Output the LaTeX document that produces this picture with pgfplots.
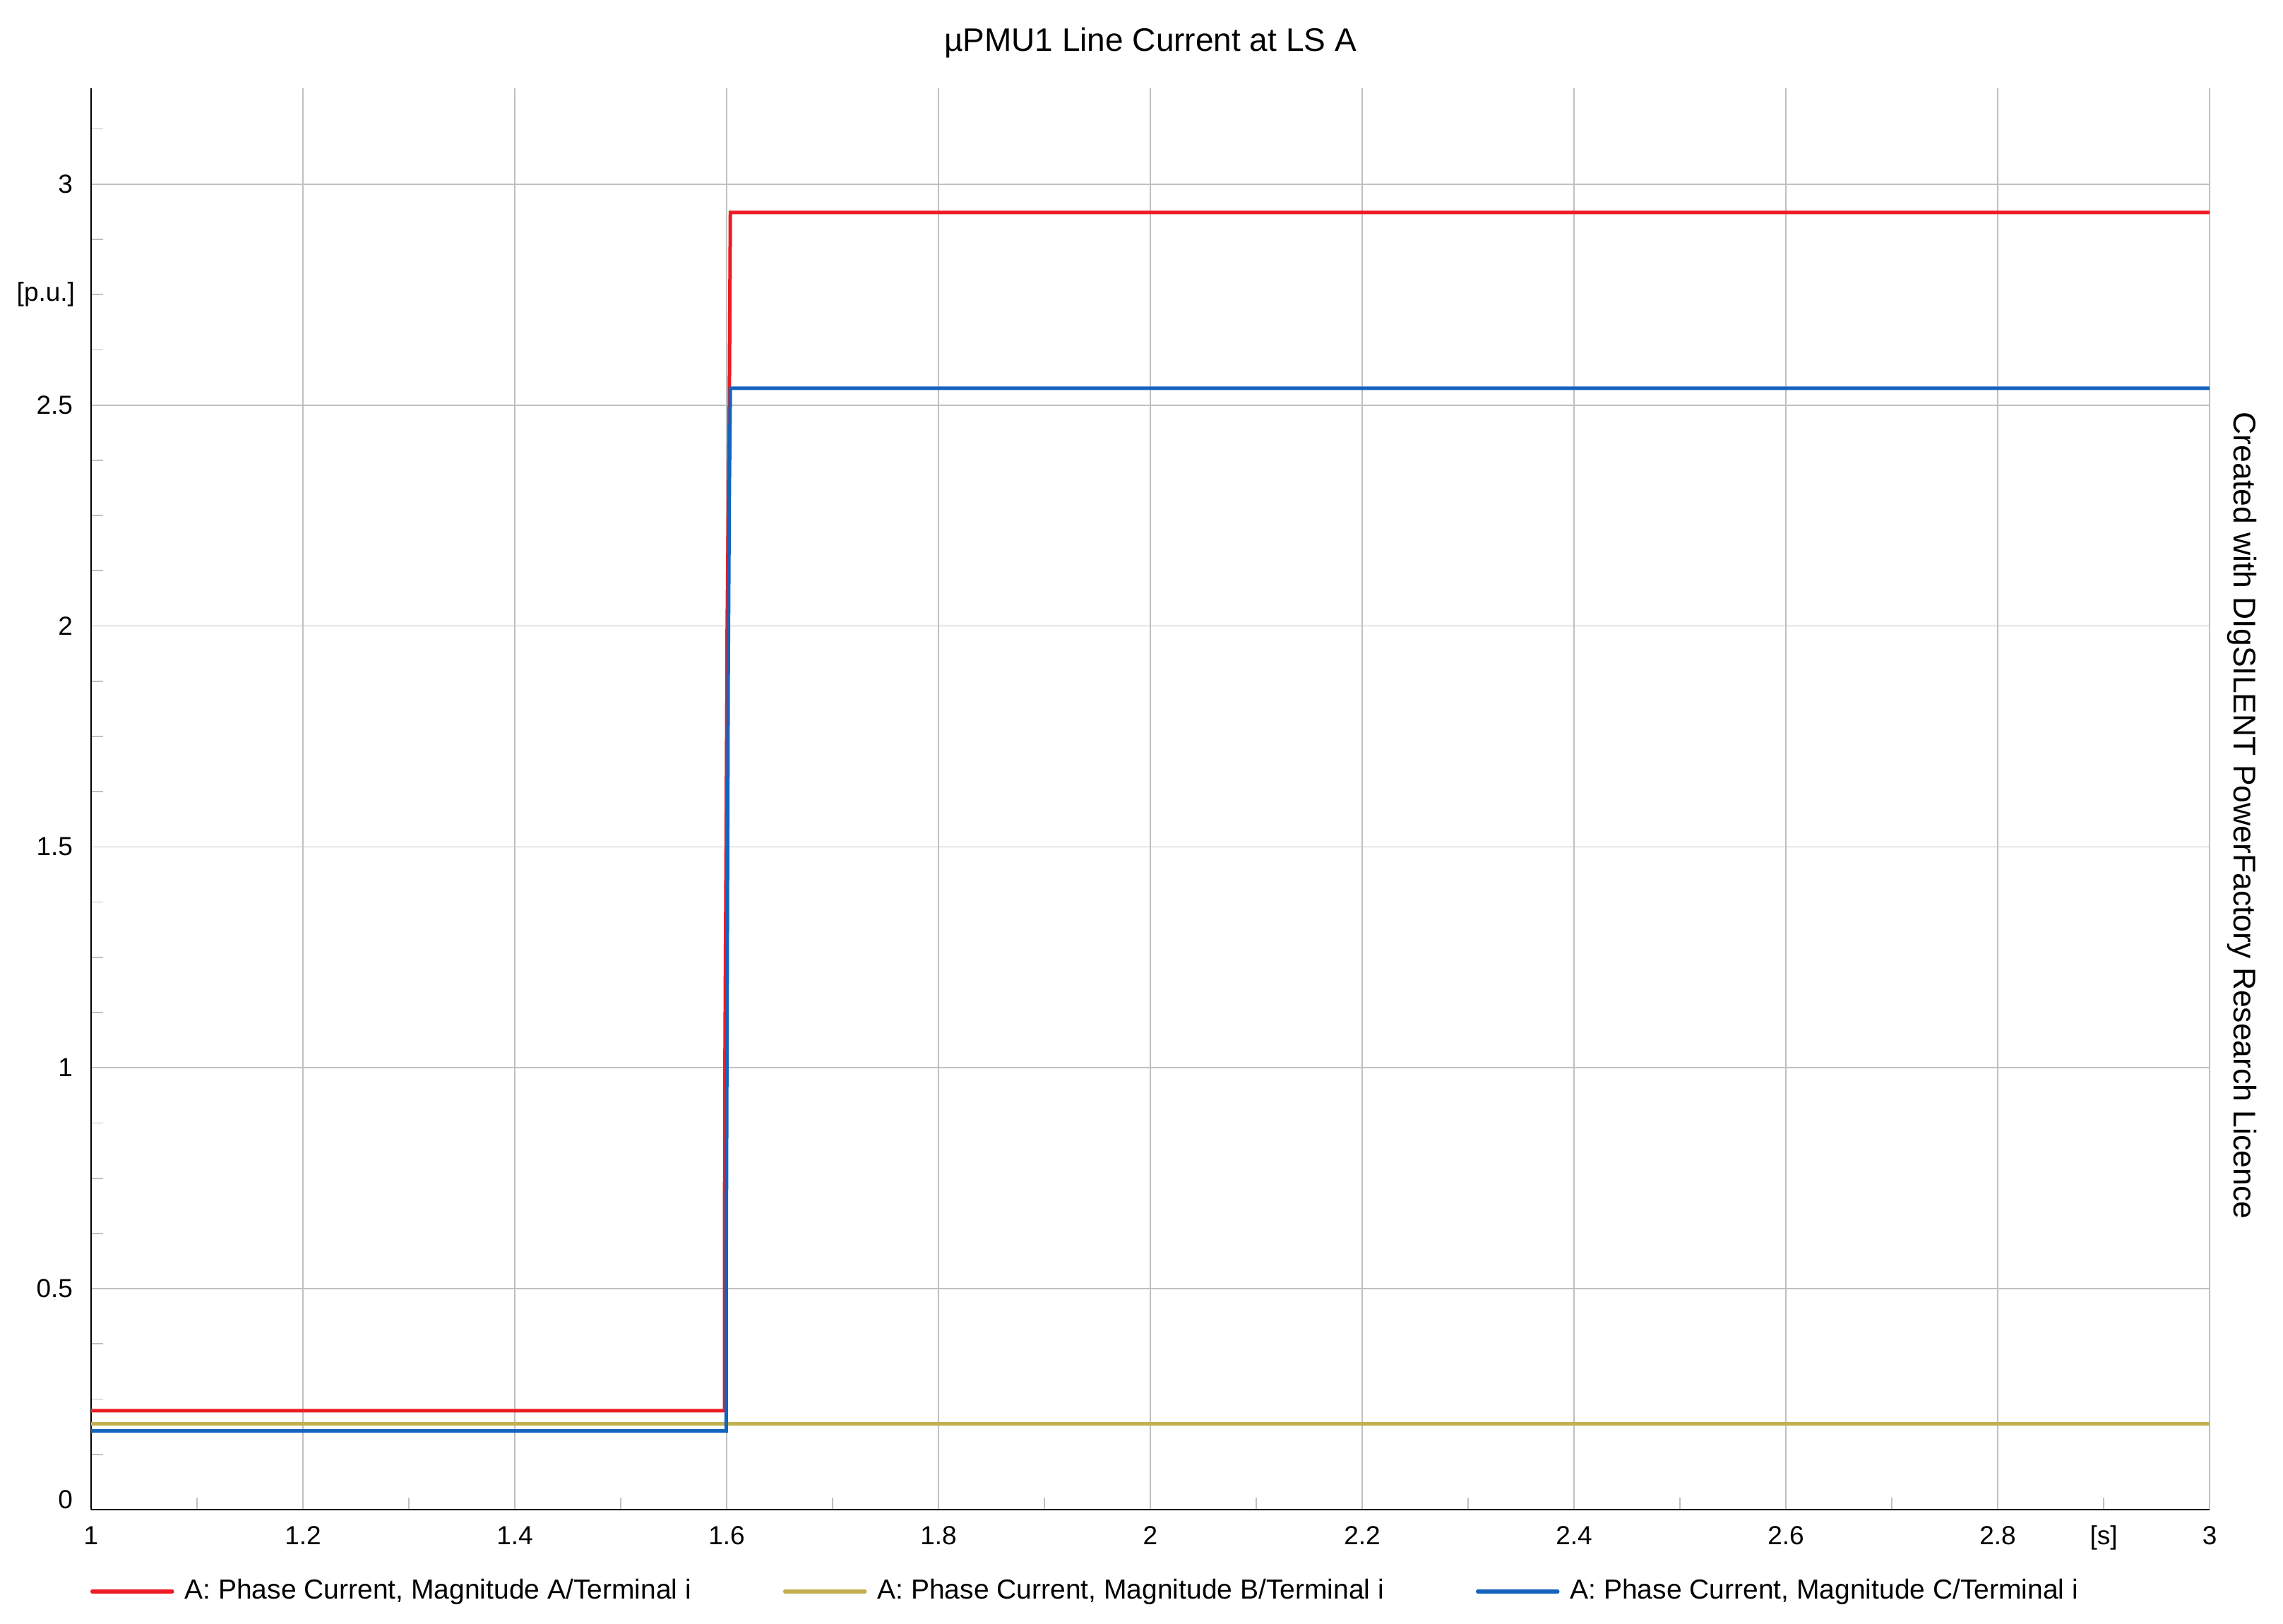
\documentclass[border=0pt]{standalone}
\usepackage{fontspec}
\setmainfont{Liberation Sans}
\usepackage{pgfplots}
\pgfplotsset{compat=1.18}
\definecolor{cRed}{RGB}{237,28,36}
\definecolor{cGold}{RGB}{194,176,80}
\definecolor{cBlue}{RGB}{20,100,190}
\definecolor{cGrid}{RGB}{192,192,192}
\newcommand{\nf}{\fontsize{7.4}{8.9}\selectfont}
\newcommand{\lf}{\fontsize{7.8}{9.4}\selectfont}
\begin{document}
\begin{tikzpicture}
\begin{axis}[
  name=ax,
  scale only axis,
  width=600pt, height=402.6pt,
  xmin=1, xmax=3, ymin=0, ymax=3.217,
  axis x line*=bottom, axis y line*=left,
  axis line style={black, line width=0.45pt},
  xtick={1,1.2,...,3.01},
  ytick={0,0.5,...,3.01},
  minor xtick={1.1,1.3,1.5,1.7,1.9,2.1,2.3,2.5,2.7,2.9},
  minor ytick={0.125,0.25,0.375,0.625,0.75,0.875,1.125,1.25,1.375,1.625,1.75,1.875,2.125,2.25,2.375,2.625,2.75,2.875,3.125},
  major tick length=0pt,
  minor tick length=3.4pt,
  every minor tick/.style={cGrid, line width=0.35pt},
  grid=major,
  major grid style={cGrid, line width=0.35pt},
  /pgf/number format/assume math mode=true,
  tick label style={font=\nf},
  xticklabel style={anchor=base, yshift=-9.8pt, inner sep=0pt},
  yticklabel style={anchor=east, inner sep=0pt, xshift=-5pt},
  yticklabel={\pgfmathparse{abs(\tick)<0.01 ? 1 : 0}\ifdim\pgfmathresult pt>0.5pt\raisebox{2.8pt}[\height][\depth]{0}\else\pgfmathprintnumber{\tick}\fi},
  clip=false,
  legend columns=3,
  legend style={at={(0,0)}, anchor=west, yshift=-23.2pt, xshift=-0.2pt, draw=none, fill=none,
    inner sep=0pt, outer sep=0pt, font=\lf, nodes={inner sep=0pt},
    /tikz/every odd column/.append style={column sep=3pt},
    /tikz/every even column/.append style={column sep=26pt}},
  legend image code/.code={\draw[#1, line cap=round, line width=1.1pt] (0pt,0pt) -- (22.6pt,0pt);},
]
\addplot[cRed, line width=1pt, line join=miter] coordinates {
  (1,0.224) (1.598,0.224) (1.5982,0.9) (1.5988,1.2) (1.5995,1.5) (1.6005,2.0) (1.6025,2.5) (1.6035,2.936) (3,2.936)};
\addlegendentry{A: Phase Current, Magnitude A/Terminal i}
\addplot[cGold, line width=1pt, line join=miter] coordinates {
  (1,0.194) (3,0.194)};
\addlegendentry{A: Phase Current, Magnitude B/Terminal i}
\addplot[cBlue, line width=1pt, line join=miter] coordinates {
  (1,0.178) (1.5995,0.178) (1.5995,0.5) (1.6005,1.2) (1.6015,1.9) (1.6025,2.3) (1.6035,2.538) (3,2.538)};
\addlegendentry{A: Phase Current, Magnitude C/Terminal i}
\node[anchor=base, font=\nf, inner sep=0pt, yshift=-9.8pt] at (axis cs:2.9,0) {[s]};
\node[anchor=east, font=\nf, inner sep=0pt, xshift=-4.4pt] at (axis cs:1,2.75) {[p.u.]};
\coordinate (T) at (rel axis cs:0.5,1);
\coordinate (R) at (rel axis cs:1,0.5);
\end{axis}
\node[anchor=base, font=\fontsize{9.2}{11}\selectfont, inner sep=0pt] at ([yshift=10.4pt]T) {µPMU1 Line Current at LS A};
\node[rotate=-90, anchor=base, font=\fontsize{8.9}{10.5}\selectfont, inner sep=0pt] at ([xshift=6.8pt,yshift=-4.7pt]R) {Created with DIgSILENT PowerFactory Research Licence};
\pgfresetboundingbox
\path[use as bounding box] ([xshift=-25.8pt,yshift=-32.2pt]ax.south west) rectangle ([xshift=20.8pt,yshift=25pt]ax.north east);
\end{tikzpicture}
\end{document}
